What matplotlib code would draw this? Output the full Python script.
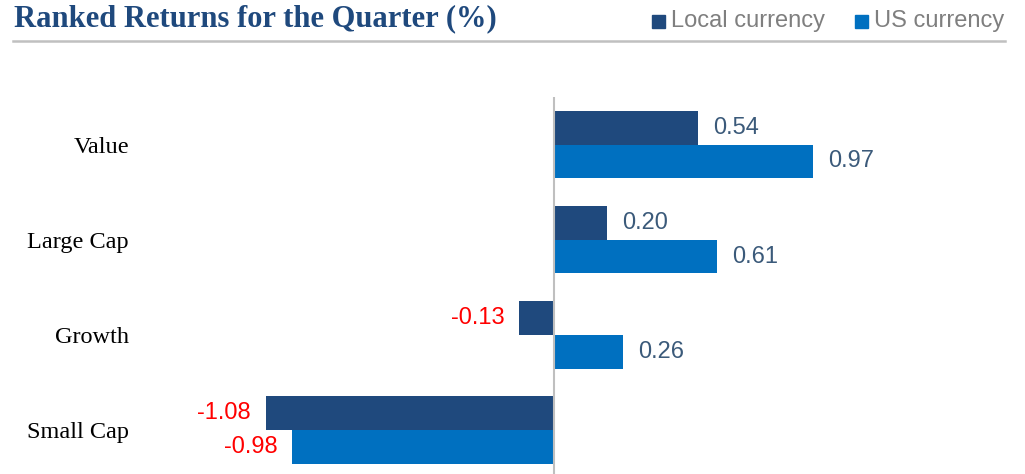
import matplotlib
matplotlib.use("Agg")
import matplotlib.pyplot as plt
from matplotlib.patches import Rectangle
from matplotlib.lines import Line2D

categories = ["Value", "Large Cap", "Growth", "Small Cap"]
local_values = [0.54, 0.20, -0.13, -1.08]
us_values = [0.97, 0.61, 0.26, -0.98]
series_names = ["Local currency", "US currency"]

C_LOCAL = "#1F497D"
C_US = "#0070C0"
C_POS = "#3B5A7A"
C_NEG = "#FF0000"

W, H = 1025, 474
fig = plt.figure(figsize=(W / 100, H / 100), dpi=100)

# axes in pixel layout
zero_px = 554
ppu = 267.0
ax_left_px, ax_right_px = 140, 1012
ax_top_px, ax_bot_px = 97, 477.5
ax = fig.add_axes([ax_left_px / W, 1 - ax_bot_px / H,
                   (ax_right_px - ax_left_px) / W, (ax_bot_px - ax_top_px) / H])
ax.set_xlim((ax_left_px - zero_px) / ppu, (ax_right_px - zero_px) / ppu)
n = len(categories)
ax.set_ylim(n - 0.5, -0.5)

bh = 0.355
y = list(range(n))
ax.barh([i - bh / 2 for i in y], local_values, height=bh, color=C_LOCAL)
ax.barh([i + bh / 2 for i in y], us_values, height=bh, color=C_US)

ax.axvline(0, color="#BFBFBF", lw=1.5)
for s in ax.spines.values():
    s.set_visible(False)
ax.set_xticks([])
ax.set_yticks(y)
ax.set_yticklabels(categories, family="Liberation Serif", fontsize=17.5)
ax.tick_params(axis="y", length=0, pad=8)

off = 15 / ppu
for vals, dy in ((local_values, -bh / 2), (us_values, bh / 2)):
    for i, v in enumerate(vals):
        if v >= 0:
            ax.text(v + off, i + dy, f"{v:.2f}", ha="left", va="center",
                    fontsize=17, color=C_POS, family="Liberation Sans")
        else:
            ax.text(v - off, i + dy, f"{v:.2f}", ha="right", va="center",
                    fontsize=17, color=C_NEG, family="Liberation Sans")

# title
fig.text(14 / W, 1 - 19 / H, "Ranked Returns for the Quarter (%)", ha="left", va="center",
         fontsize=22, fontweight="bold", family="Liberation Serif", color="#1F497D")
# rule under header
fig.add_artist(Line2D([13 / W, 1005 / W], [1 - 41 / H, 1 - 41 / H], color="#C0C0C0", lw=1.8))

# legend
for (x0, name, col) in ((652, series_names[0], C_LOCAL), (855, series_names[1], C_US)):
    fig.add_artist(Rectangle((x0 / W, 1 - 28 / H), 13 / W, 13 / H, color=col,
                             transform=fig.transFigure))
    fig.text((x0 + 19) / W, 1 - 21 / H, name, ha="left", va="center", fontsize=17,
             color="#7F7F7F", family="Liberation Sans")

fig.savefig("out.png", dpi=100)
